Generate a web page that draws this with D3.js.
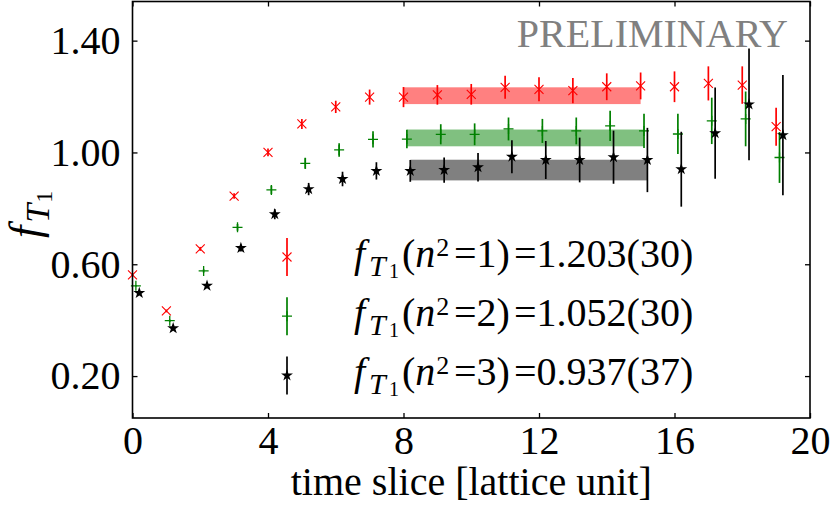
<!DOCTYPE html>
<html><head><meta charset="utf-8">
<script src="https://cdn.jsdelivr.net/npm/d3@7"></script>
<style>
body{margin:0;background:#fff}
svg{display:block}
</style>
</head><body>
<svg id="c" width="830" height="511"></svg>
<script>
// ---- data ----
const timeSlices = [0,1,2,3,4,5,6,7,8,9,10,11,12,13,14,15,16,17,18,19];
const redVals   = [0.562,0.433,0.655,0.844,1.000,1.102,1.163,1.198,1.198,1.206,1.208,1.233,1.226,1.221,1.235,1.238,1.235,1.247,1.241,1.092];
const redErrs   = [0.004,0.005,0.007,0.010,0.014,0.018,0.022,0.027,0.036,0.035,0.037,0.041,0.043,0.045,0.048,0.048,0.055,0.061,0.067,0.068];
const greenVals = [0.523,0.398,0.576,0.732,0.866,0.961,1.009,1.047,1.048,1.065,1.065,1.084,1.077,1.077,1.095,1.077,1.066,1.113,1.120,0.982];
const greenErrs = [0.003,0.004,0.006,0.012,0.015,0.020,0.024,0.029,0.033,0.036,0.039,0.041,0.043,0.048,0.054,0.061,0.072,0.083,0.098,0.091];
const blackVals = [0.497,0.371,0.523,0.658,0.779,0.869,0.905,0.934,0.934,0.937,0.947,0.985,0.973,0.973,0.983,0.973,0.940,1.069,1.172,1.062];
const blackErrs = [0.004,0.005,0.007,0.012,0.018,0.022,0.026,0.031,0.039,0.045,0.051,0.059,0.068,0.080,0.095,0.115,0.134,0.163,0.200,0.215];
const momenta   = ["1","2","3"];
const fitVals   = [1.203,1.052,0.937];
const fitErrs   = [0.030,0.030,0.037];
const fitLabels = ["1.203(30)","1.052(30)","0.937(37)"];
const fitRange  = [8,15];
const xTicks = [0,4,8,12,16,20];
const yTicks = [0.20,0.60,1.00,1.40];

const series = [
  {vals:redVals,   errs:redErrs,   color:"#ff0000", band:"#ff8080", off:0.0, marker:"x"},
  {vals:greenVals, errs:greenErrs, color:"#008000", band:"#80c080", off:0.1, marker:"+"},
  {vals:blackVals, errs:blackErrs, color:"#000000", band:"#808080", off:0.2, marker:"star"}
];

// ---- layout ----
const FONT = "Liberation Serif";
const L=132.5, R=810, T=1.5, B=418;
const svg = d3.select("#c");
const x = d3.scaleLinear().domain([0,20]).range([L,R]);
const y = d3.scaleLinear().domain([0.05,1.54]).range([B,T]);

// fit bands
series.forEach((s,i)=>{
  svg.append("rect")
    .attr("x", x(fitRange[0]+s.off))
    .attr("width", x(fitRange[1]+s.off)-x(fitRange[0]+s.off))
    .attr("y", y(fitVals[i]+fitErrs[i]))
    .attr("height", y(fitVals[i]-fitErrs[i])-y(fitVals[i]+fitErrs[i]))
    .attr("fill", s.band);
});

function drawMarker(g, type, color){
  if(type==="x"){
    g.append("path").attr("d","M-4.5,-4.5L4.5,4.5M-4.5,4.5L4.5,-4.5").attr("stroke",color).attr("stroke-width",1.1).attr("fill","none");
  } else if(type==="+"){
    g.append("path").attr("d","M-5,0L5,0M0,-5L0,5").attr("stroke",color).attr("stroke-width",1.3).attr("fill","none");
  } else {
    g.append("path").attr("d", d3.symbol(d3.symbolStar, 44)()).attr("fill",color);
  }
}

// points with error bars
series.forEach(s=>{
  const g = svg.append("g");
  timeSlices.forEach((t,j)=>{
    const cx = x(t+s.off), v=s.vals[j], e=s.errs[j];
    g.append("line").attr("x1",cx).attr("x2",cx)
      .attr("y1",y(v-e)).attr("y2",y(v+e))
      .attr("stroke",s.color).attr("stroke-width",1.7);
    drawMarker(g.append("g").attr("transform",`translate(${cx},${y(v)})`), s.marker, s.color);
  });
});

// frame
svg.append("rect").attr("x",L).attr("y",T).attr("width",R-L).attr("height",B-T)
  .attr("fill","none").attr("stroke","#000").attr("stroke-width",1.6);

// axes
const fs = 40;
const ax = svg.append("g").attr("transform",`translate(0,${B})`)
  .call(d3.axisBottom(x).tickValues(xTicks).tickSize(-5).tickPadding(8).tickFormat(d3.format("d")));
const ay = svg.append("g").attr("transform",`translate(${L},0)`)
  .call(d3.axisLeft(y).tickValues(yTicks).tickSize(-5).tickPadding(12).tickFormat(d3.format(".2f")));
const at = svg.append("g").attr("transform",`translate(0,${T})`)
  .call(d3.axisTop(x).tickValues(xTicks).tickSize(-5).tickFormat(""));
const ar = svg.append("g").attr("transform",`translate(${R},0)`)
  .call(d3.axisRight(y).tickValues(yTicks).tickSize(-5).tickFormat(""));
[ax,ay,at,ar].forEach(a=>{
  a.attr("font-family",FONT).attr("font-size",fs);
  a.select(".domain").remove();
  a.selectAll("line").attr("stroke","#000").attr("stroke-width",1.3);
  a.selectAll("text").attr("font-size",fs).attr("fill","#000").attr("font-family",FONT);
});

// axis titles
svg.append("text").attr("x",(L+R)/2).attr("y",495).attr("text-anchor","middle")
  .attr("font-family",FONT).attr("font-size",fs).text("time slice [lattice unit]");

const yl = svg.append("text").attr("transform","translate(40,238) rotate(-90)")
  .attr("font-family",FONT).attr("font-size",44);
yl.append("tspan").attr("font-style","italic").text("f");
yl.append("tspan").attr("font-style","italic").attr("font-size",34).attr("dy",9).attr("dx",3).text("T");
yl.append("tspan").attr("font-size",24).attr("dy",3).attr("dx",1).text("1");

// preliminary
svg.append("text").attr("x",788).attr("y",47).attr("text-anchor","end")
  .attr("font-family",FONT).attr("font-size",40).attr("fill","#808080").text("PRELIMINARY");

// legend
const legMarkX = 287, legTextX = 354, legY0 = 257, legDy = 59.2, legBar = 19;
series.forEach((s,i)=>{
  const my = legY0 + i*legDy;
  svg.append("line").attr("x1",legMarkX).attr("x2",legMarkX).attr("y1",my-legBar).attr("y2",my+legBar)
    .attr("stroke",s.color).attr("stroke-width",1.7);
  drawMarker(svg.append("g").attr("transform",`translate(${legMarkX},${my})`), s.marker, s.color);
  const base = my + 9.5;
  const tx = svg.append("text").attr("y",base).attr("font-size",fs).attr("font-family",FONT);
  const sp = (t)=>tx.append("tspan").text(t);
  sp("f").attr("x",legTextX).attr("font-style","italic");
  sp("T").attr("x",legTextX+15).attr("dy",9).attr("font-style","italic").attr("font-size",30);
  sp("1").attr("x",legTextX+35).attr("dy",2).attr("font-size",20);
  sp("(").attr("x",legTextX+48).attr("dy",-11);
  sp("n").attr("font-style","italic");
  sp("2").attr("dy",-11).attr("font-size",26).attr("dx",1);
  sp("=" + momenta[i] + ")").attr("x",legTextX+100).attr("dy",11);
  sp("=" + fitLabels[i]).attr("x",legTextX+160);
});
</script>
</body></html>
